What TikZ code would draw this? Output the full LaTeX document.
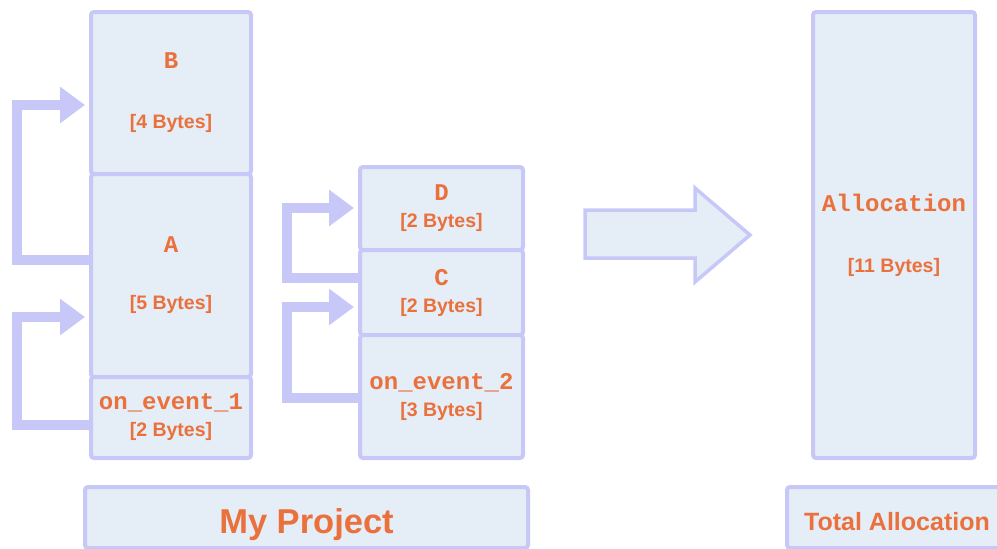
\documentclass[tikz,border=0pt]{standalone}
\usepackage{fontspec}
\setmainfont{Liberation Sans}
\newfontfamily\monof{Liberation Mono}
\usetikzlibrary{arrows.meta}
\definecolor{lav}{RGB}{200,200,248}
\definecolor{boxfill}{RGB}{229,237,246}
\definecolor{txt}{RGB}{234,112,60}
\newcommand{\mtxt}[1]{{\fontsize{24pt}{27pt}\selectfont\monof\bfseries #1}}
\begin{document}
\begin{tikzpicture}[x=1pt,y=-1pt,
  box/.style={draw=lav, fill=boxfill, line width=4pt, rounded corners=3pt,
    inner sep=0pt, outer sep=0pt, align=center, text=txt,
    font=\fontsize{19.5pt}{27pt}\selectfont\bfseries},
  conn/.style={draw=lav, line width=10pt, line join=miter,
    -{Triangle[length=25pt,width=35pt]}, shorten >=6pt},
  bigarrow/.style={draw=lav, fill=boxfill, line width=3.5pt, line join=miter}]
\useasboundingbox (0,0) rectangle (997,549);
\clip (0,0) rectangle (997,549);
% left column
\node[box, minimum width=160pt, minimum height=162pt] (B) at (171,93) {\mtxt{B}\\[33pt]{[4 Bytes]}};
\node[box, minimum width=160pt, minimum height=203pt] (A) at (171,275.5) {\mtxt{A}\\[30pt]{[5 Bytes]}};
\node[box, minimum width=160pt, minimum height=81pt] (E1) at (171,417.5) {\mtxt{on\_event\_1}\\{[2 Bytes]}};
% middle column
\node[box, minimum width=163pt, minimum height=83pt] (D) at (441.5,208.5) {\mtxt{D}\\{[2 Bytes]}};
\node[box, minimum width=163pt, minimum height=85pt] (C) at (441.5,292.5) {\mtxt{C}\\{[2 Bytes]}};
\node[box, minimum width=163pt, minimum height=123pt] (E2) at (441.5,396.5) {\mtxt{on\_event\_2}\\{[3 Bytes]}};
% allocation
\node[box, minimum width=162pt, minimum height=446pt] (AL) at (894,235) {\mtxt{Allocation}\\[34pt]{[11 Bytes]}};
% bottom labels
\node[box, minimum width=443pt, minimum height=61pt, text height=31pt, text depth=0pt,
  font=\fontsize{34.5pt}{36pt}\selectfont\bfseries] (P) at (306.5,517.5) {My Project};
\node[box, minimum width=220pt, minimum height=61pt, text height=25pt, text depth=0pt,
  font=\fontsize{25pt}{28pt}\selectfont\bfseries] (T) at (897,517.5) {Total Allocation};
% connectors
\draw[conn] (A.west |- 0,260) -| (17,105) -- (B.west |- 0,105);
\draw[conn] (E1.west |- 0,425) -| (17,317) -- (A.west |- 0,317);
\draw[conn] (C.west |- 0,278) -| (287,208) -- (D.west |- 0,208);
\draw[conn] (E2.west |- 0,398) -| (287,307) -- (C.west |- 0,307);
% big arrow
\draw[bigarrow] (585,210) -- (695,210) -- (695,188) -- (750,235) -- (695,282) -- (695,258) -- (585,258) -- cycle;
\end{tikzpicture}
\end{document}
